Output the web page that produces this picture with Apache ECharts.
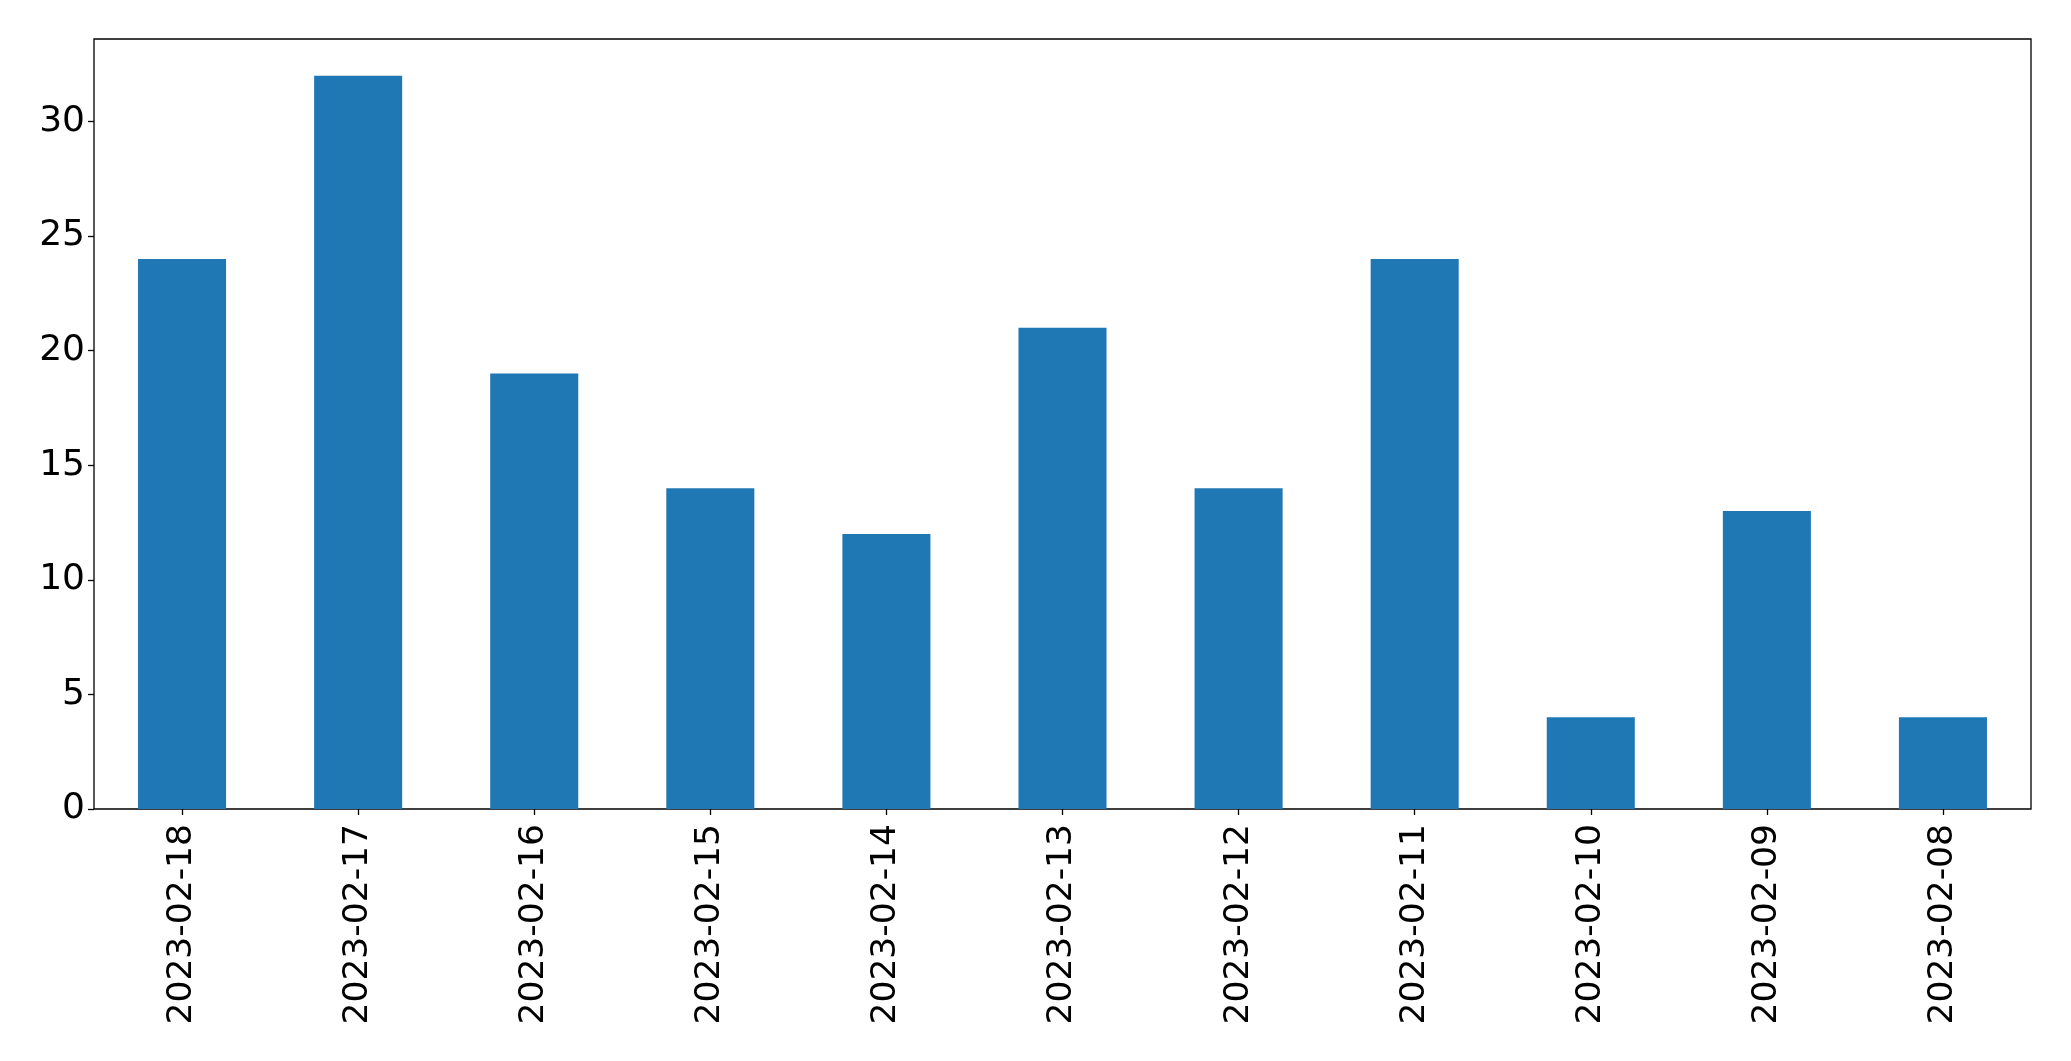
<!DOCTYPE html>
<html>
<head>
<meta charset="utf-8">
<script src="https://cdn.jsdelivr.net/npm/echarts@6/dist/echarts.min.js"></script>
<style>
html,body{margin:0;padding:0;background:#fff;}
#chart{width:2071px;height:1061px;}
</style>
</head>
<body>
<div id="chart"></div>
<script>
const categories = ['2023-02-18','2023-02-17','2023-02-16','2023-02-15','2023-02-14','2023-02-13','2023-02-12','2023-02-11','2023-02-10','2023-02-09','2023-02-08'];
const values = [24, 32, 19, 14, 12, 21, 14, 24, 4, 13, 4];
const yTicks = [0, 5, 10, 15, 20, 25, 30];

const chart = echarts.init(document.getElementById('chart'), null, {renderer: 'canvas'});
const font = "'DejaVu Sans', sans-serif";
chart.setOption({
  animation: false,
  backgroundColor: '#ffffff',
  grid: {
    left: 94, right: 40, top: 39, bottom: 252,
    show: true, borderColor: '#000', borderWidth: 1.3, backgroundColor: 'transparent'
  },
  xAxis: {
    type: 'category',
    data: categories,
    boundaryGap: true,
    axisLine: {show: false},
    axisTick: {show: true, alignWithLabel: true, length: 6, lineStyle: {color: '#000', width: 1.3}},
    axisLabel: {
      rotate: 90, margin: 15, color: '#000', fontSize: 34.5, fontFamily: font, interval: 0
    },
    splitLine: {show: false}
  },
  yAxis: {
    type: 'value',
    min: 0, max: 33.6, interval: 5,
    axisLine: {show: false},
    axisTick: {show: true, length: 6, lineStyle: {color: '#000', width: 1.3}},
    axisLabel: {
      margin: 9, color: '#000', fontSize: 36, fontFamily: font, showMaxLabel: false,
      formatter: v => (yTicks.indexOf(v) >= 0 ? String(v) : '')
    },
    splitLine: {show: false}
  },
  series: [{
    type: 'bar',
    data: values,
    barWidth: '50%',
    itemStyle: {color: '#1f77b4'}
  }]
});
</script>
</body>
</html>
